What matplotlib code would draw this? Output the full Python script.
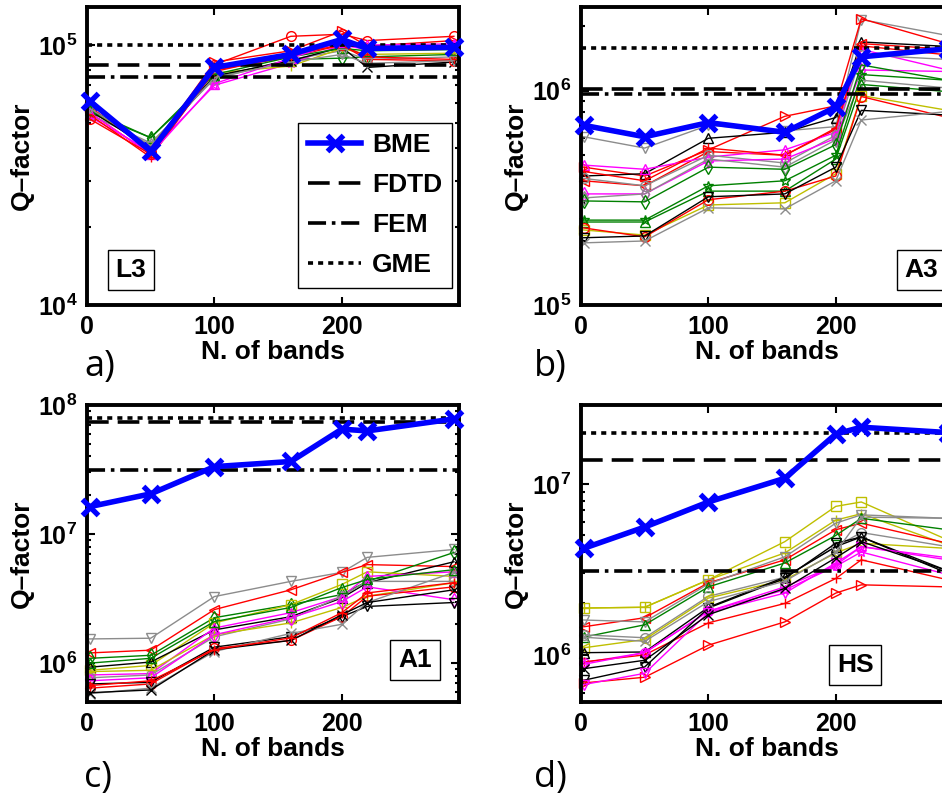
import numpy as np
import matplotlib
matplotlib.use('Agg')
import matplotlib.pyplot as plt
from matplotlib.ticker import LogLocator, FuncFormatter, NullFormatter

plt.rcParams['font.family'] = ['Liberation Sans', 'DejaVu Sans']
plt.rcParams['font.weight'] = 'bold'
plt.rcParams['axes.labelweight'] = 'bold'
plt.rcParams['mathtext.fontset'] = 'custom'
plt.rcParams['mathtext.rm'] = 'Liberation Sans:bold'
plt.rcParams['mathtext.bf'] = 'Liberation Sans:bold'
plt.rcParams['mathtext.it'] = 'Liberation Sans:bold'

# ---------------------------------------------------------------- data
bands = [2, 50, 100, 160, 200, 220, 288]

# a) L3
bme_a = [6.1e4, 3.9e4, 8.2e4, 9.2e4, 1.05e5, 9.7e4, 9.8e4]
ref_a = [8.4e4, 7.5e4, 1.0e5]          # FDTD, FEM, GME
runs_a = [
    [5.5e4, 3.8e4, 8.4e4, 1.08e5, 1.10e5, 1.04e5, 1.08e5],
    [5.8e4, 3.9e4, 8.6e4, 9.5e4, 1.13e5, 9.9e4, 1.04e5],
    [5.5e4, 4.4e4, 7.5e4, 8.8e4, 8.9e4, 9.0e4, 9.2e4],
    [5.3e4, 3.9e4, 7.0e4, 8.5e4, 1.00e5, 9.6e4, 1.00e5],
    [5.4e4, 4.2e4, 7.4e4, 8.8e4, 9.5e4, 8.8e4, 9.0e4],
    [5.6e4, 4.1e4, 7.8e4, 8.3e4, 9.7e4, 9.2e4, 9.3e4],
    [5.6e4, 4.0e4, 7.6e4, 8.7e4, 9.8e4, 8.2e4, 8.6e4],
    [5.4e4, 3.7e4, 8.0e4, 9.0e4, 1.00e5, 9.0e4, 8.8e4],
    [5.6e4, 4.4e4, 7.7e4, 9.0e4, 9.7e4, 9.5e4, 9.6e4],
    [5.5e4, 3.8e4, 7.1e4, 8.9e4, 1.03e5, 1.00e5, 1.01e5],
    [5.2e4, 3.8e4, 7.9e4, 9.2e4, 1.00e5, 8.8e4, 8.7e4],
    [5.7e4, 4.1e4, 7.5e4, 8.6e4, 9.2e4, 8.5e4, 8.7e4],
]
sty_a = ['ro', 'r>', 'gd', 'm*', 'a^', 'y+', 'kx', 'r+', 'g^', 'm^', 'ro', 'av']

# b) A3
bme_b = [6.9e5, 6.1e5, 7.1e5, 6.4e5, 8.4e5, 1.44e6, 1.57e6]
ref_b = [1.02e6, 0.97e6, 1.59e6]
runs_b = [
    [6.1e5, 5.4e5, 6.9e5, 6.5e5, 6.8e5, 2.15e6, 1.81e6],
    [4.4e5, 4.0e5, 5.3e5, 7.6e5, 8.5e5, 2.17e6, 1.66e6],
    [4.0e5, 4.1e5, 6.0e5, 6.4e5, 7.5e5, 1.69e6, 1.61e6],
    [3.8e5, 3.6e5, 5.2e5, 5.0e5, 6.6e5, 1.66e6, 1.56e6],
    [4.5e5, 4.3e5, 4.9e5, 5.3e5, 6.4e5, 1.56e6, 1.25e6],
    [4.2e5, 3.8e5, 5.4e5, 5.0e5, 6.7e5, 1.62e6, 1.47e6],
    [3.9e5, 3.6e5, 5.0e5, 4.6e5, 6.2e5, 1.47e6, 1.40e6],
    [3.3e5, 3.3e5, 4.7e5, 4.8e5, 6.0e5, 1.25e6, 1.23e6],
    [3.16e5, 3.3e5, 4.8e5, 4.4e5, 5.9e5, 1.12e6, 1.03e6],
    [3.06e5, 3.03e5, 4.4e5, 4.3e5, 5.6e5, 1.32e6, 1.12e6],
    [2.49e5, 2.49e5, 3.6e5, 3.8e5, 5.0e5, 1.19e6, 1.12e6],
    [2.44e5, 2.44e5, 3.4e5, 3.4e5, 4.8e5, 1.07e6, 9.9e5],
    [2.24e5, 2.12e5, 2.93e5, 3.0e5, 4.1e5, 9.5e5, 8.1e5],
    [2.29e5, 2.08e5, 3.1e5, 3.4e5, 4.0e5, 9.4e5, 7.5e5],
    [2.06e5, 2.10e5, 3.2e5, 3.3e5, 4.4e5, 8.1e5, 7.7e5],
    [1.95e5, 1.99e5, 2.84e5, 2.81e5, 3.8e5, 7.3e5, 8.0e5],
]
sty_b = ['av', 'r>', 'k^', 'r<', 'm^', 'r+', 'ao', 'md', 'ad', 'gd',
         'g*', 'g^', 'ys', 'ro', 'kv', 'ax']

# c) A1
bme_c = [1.63e7, 2.05e7, 3.33e7, 3.65e7, 6.5e7, 6.3e7, 7.8e7]
ref_c = [7.4e7, 3.16e7, 7.9e7]
runs_c = [
    [1.54e6, 1.56e6, 3.28e6, 4.3e6, 5.05e6, 6.6e6, 7.6e6],
    [1.20e6, 1.26e6, 2.6e6, 3.7e6, 5.05e6, 5.8e6, 5.6e6],
    [1.09e6, 1.15e6, 2.25e6, 2.84e6, 3.4e6, 4.3e6, 7.2e6],
    [8.8e5, 9.6e5, 2.05e6, 2.84e6, 4.07e6, 5.1e6, 4.7e6],
    [9.3e5, 1.02e6, 1.81e6, 2.29e6, 3.2e6, 4.2e6, 6.1e6],
    [8.1e5, 8.3e5, 1.87e6, 2.46e6, 3.28e6, 4.7e6, 5.1e6],
    [7.7e5, 8.1e5, 1.6e6, 2.2e6, 3.3e6, 4.3e6, 4.3e6],
    [8.6e5, 8.8e5, 1.66e6, 2.05e6, 2.7e6, 3.3e6, 4.2e6],
    [7.3e5, 7.7e5, 1.66e6, 2.25e6, 3.0e6, 3.9e6, 3.1e6],
    [6.9e5, 7.1e5, 1.33e6, 1.6e6, 2.29e6, 2.75e6, 2.95e6],
    [6.4e5, 6.9e5, 1.3e6, 1.5e6, 2.29e6, 3.3e6, 3.9e6],
    [5.8e5, 6.4e5, 1.23e6, 1.7e6, 2.0e6, 2.95e6, 5.05e6],
    [5.9e5, 6.2e5, 1.27e6, 1.5e6, 2.37e6, 2.95e6, 3.7e6],
    [6.7e5, 7.3e5, 1.27e6, 1.57e6, 2.46e6, 3.5e6, 4.2e6],
    [1.0e6, 1.09e6, 2.1e6, 2.7e6, 3.85e6, 4.45e6, 5.3e6],
]
sty_c = ['av', 'r<', 'gd', 'ys', 'k^', 'm^', 'ao', 'y+', 'md', 'kv',
         'ro', 'ax', 'kx', 'r+', 'g^']

# d) HS
bme_d = [4.2e6, 5.6e6, 7.85e6, 1.08e7, 1.96e7, 2.15e7, 2.0e7]
ref_d = [1.38e7, 3.1e6, 2.0e7]
runs_d = [
    [1.88e6, 1.9e6, 2.75e6, 4.6e6, 7.4e6, 7.85e6, 4.7e6],
    [1.88e6, 1.9e6, 2.75e6, 3.95e6, 6.15e6, 6.7e6, 4.4e6],
    [1.46e6, 1.65e6, 2.64e6, 3.6e6, 5.4e6, 5.9e6, 4.5e6],
    [1.6e6, 1.56e6, 2.6e6, 3.75e6, 5.9e6, 6.6e6, 6.3e6],
    [1.27e6, 1.5e6, 2.5e6, 3.45e6, 5.0e6, 6.3e6, 5.4e6],
    [1.31e6, 1.26e6, 2.2e6, 2.85e6, 4.3e6, 5.2e6, 4.3e6],
    [1.1e6, 1.23e6, 2.15e6, 2.75e6, 3.95e6, 4.5e6, 4.2e6],
    [1.03e6, 1.04e6, 1.9e6, 2.85e6, 4.3e6, 4.9e6, 3.1e6],
    [9.0e5, 1.03e6, 1.8e6, 2.5e6, 3.35e6, 4.3e6, 3.6e6],
    [9.1e5, 1.0e6, 1.54e6, 2.0e6, 2.8e6, 3.6e6, 2.75e6],
    [8.8e5, 1.03e6, 1.8e6, 2.4e6, 3.3e6, 4.0e6, 2.95e6],
    [7.1e5, 8.5e5, 1.88e6, 2.8e6, 4.5e6, 4.9e6, 3.0e6],
    [6.85e5, 7.4e5, 1.14e6, 1.56e6, 2.3e6, 2.57e6, 2.5e6],
    [6.7e5, 7.8e5, 1.77e6, 2.3e6, 3.45e6, 4.3e6, 3.7e6],
    [1.27e6, 1.2e6, 2.05e6, 2.7e6, 4.0e6, 6.4e6, 6.3e6],
    [8.3e5, 9.3e5, 1.72e6, 2.45e6, 3.7e6, 4.6e6, 3.1e6],
]
sty_d = ['ys', 'y+', 'r<', 'av', 'g^', 'ao', 'y<', 'k^', 'mo', 'r+',
         'm*', 'kv', 'r>', 'mv', 'ax', 'kx']

COLS = {'r': '#ff0000', 'g': '#008000', 'y': '#bfbf00', 'k': '#000000',
        'm': '#ff00ff', 'a': '#8c8c8c'}

W, H = 942, 796
fig = plt.figure(figsize=(W / 100, H / 100), dpi=100)


def frac(left, top, right, bottom):
    return [left / W, 1 - bottom / H, (right - left) / W, (bottom - top) / H]


def dec_fmt(v, pos):
    e = int(round(np.log10(v)))
    return r'$\mathbf{10^{%d}}$' % e


def panel(rect, runs, sty, bme, ref, ylim, tag, tag_xy, letter, letter_xy, legend=False):
    ax = fig.add_axes(rect)
    for y, s in zip(runs, sty):
        c = COLS[s[0]]
        ax.plot(bands, y, color=c, lw=1.0, marker=s[1], ms=7, mfc='none',
                mec=c, mew=1.0, clip_on=False)
    h1, = ax.plot([0, 292], [ref[0]] * 2, color='k', lw=2.6, dashes=(6, 2.5))
    h2, = ax.plot([0, 292], [ref[1]] * 2, color='k', lw=2.6, dashes=(5, 1.6, 1, 1.6))
    h3, = ax.plot([0, 292], [ref[2]] * 2, color='k', lw=2.6, dashes=(1.4, 1.4))
    h0, = ax.plot(bands, bme, color='#0000ff', lw=4, marker='x', ms=11,
                  mew=3.8, clip_on=False, zorder=5)
    ax.set_yscale('log')
    ax.set_xlim(0, 292)
    ax.set_ylim(*ylim)
    ax.set_xticks([0, 100, 200])
    ax.yaxis.set_major_locator(LogLocator(base=10))
    ax.yaxis.set_minor_locator(LogLocator(base=10, subs=np.arange(2, 10)))
    ax.yaxis.set_major_formatter(FuncFormatter(dec_fmt))
    ax.yaxis.set_minor_formatter(NullFormatter())
    ax.tick_params(which='both', direction='in', top=True, right=True,
                   labelsize=18, width=1.5)
    ax.tick_params(which='major', length=6, pad=7)
    ax.tick_params(which='minor', length=3)
    for sp in ax.spines.values():
        sp.set_linewidth(2.8)
    ax.set_xlabel('N. of bands', fontsize=19, labelpad=1)
    ax.set_ylabel('Q\u2013factor', fontsize=19, labelpad=3)
    ax.text(tag_xy[0], tag_xy[1], tag, transform=ax.transAxes, fontsize=19,
            ha='center', va='center',
            bbox=dict(boxstyle='square,pad=0.3', fc='white', ec='black', lw=1))
    fig.text(letter_xy[0] / W, 1 - letter_xy[1] / H, letter, fontsize=26,
             family='Open Sans', weight='normal', ha='left', va='baseline')
    if legend:
        leg = ax.legend([h0, h1, h2, h3], ['BME', 'FDTD', 'FEM', 'GME'],
                        loc='upper left', bbox_to_anchor=(0.567, 0.611),
                        borderaxespad=0, fontsize=19, fancybox=False,
                        edgecolor='k', framealpha=1, handlelength=2.0,
                        handletextpad=0.4, labelspacing=0.6, numpoints=1)
        leg.get_frame().set_linewidth(1.0)
    return ax


panel(frac(87, 7, 459, 305), runs_a, sty_a, bme_a, ref_a, (1e4, 1.4e5),
      'L3', (0.118, 0.117), 'a)', (84, 376), legend=True)
panel(frac(581, 7, 953, 305), runs_b, sty_b, bme_b, ref_b, (1e5, 2.46e6),
      'A3', (0.915, 0.117), 'b)', (534, 376))
panel(frac(87, 405, 459, 702), runs_c, sty_c, bme_c, ref_c, (5e5, 1.0e8),
      'A1', (0.882, 0.141), 'c)', (84, 787))
panel(frac(581, 405, 953, 702), runs_d, sty_d, bme_d, ref_d, (5.3e5, 2.9e7),
      'HS', (0.737, 0.125), 'd)', (534, 787))

fig.savefig('out.png', dpi=100)
